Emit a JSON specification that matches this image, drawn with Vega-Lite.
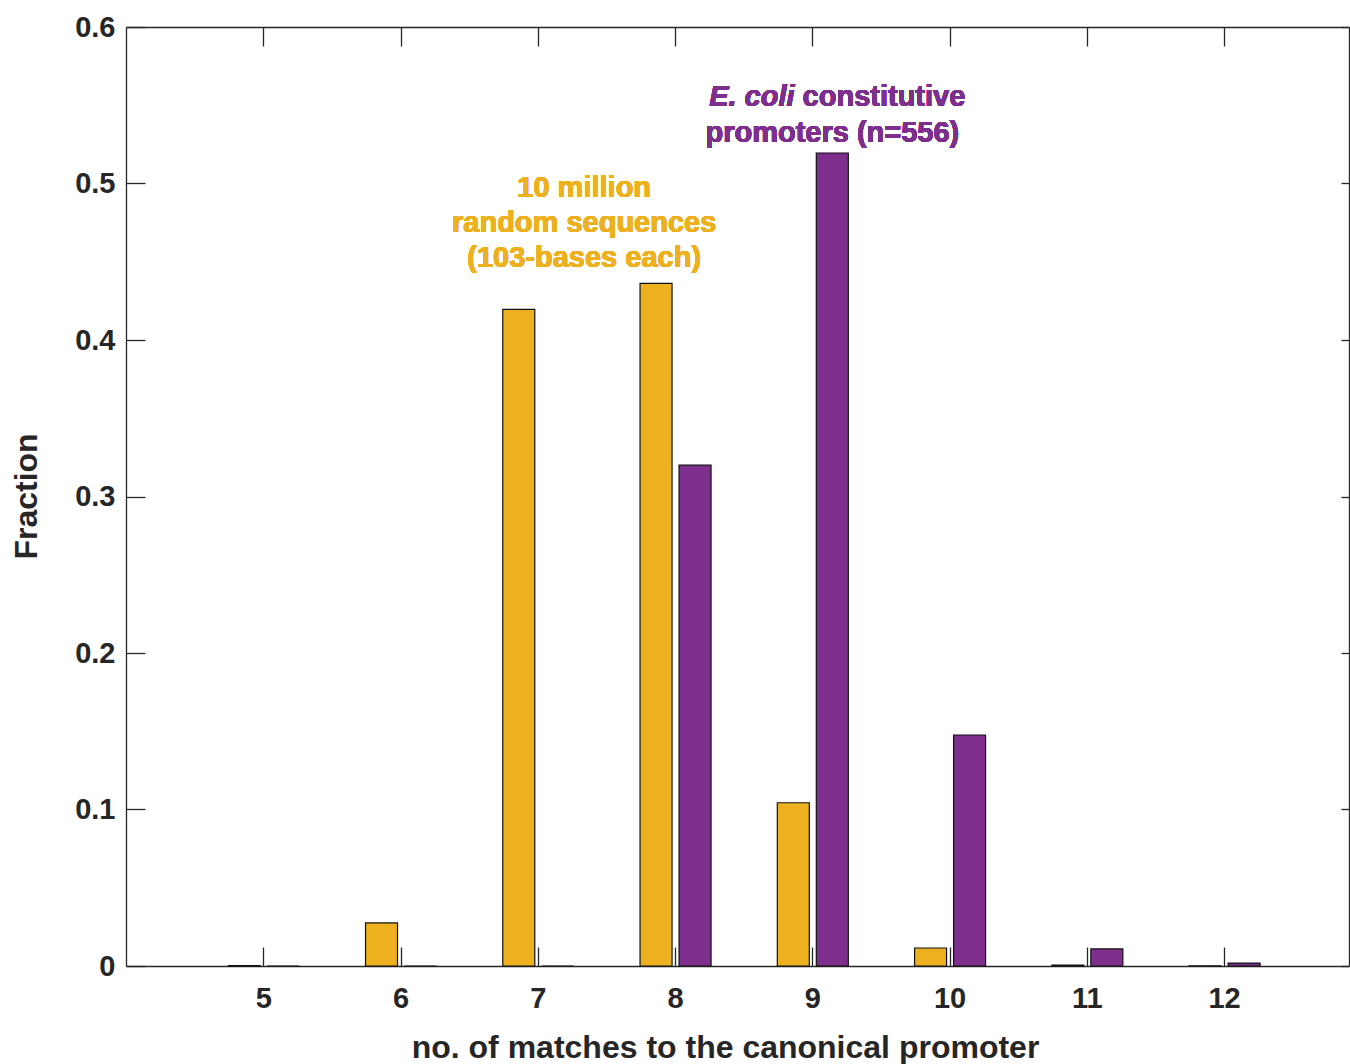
{
  "$schema": "https://vega.github.io/schema/vega-lite/v6.json",
  "width": 1223,
  "height": 939,
  "autosize": "none",
  "padding": {"left": 126, "top": 27, "right": 1, "bottom": 98},
  "background": "white",
  "config": {
    "view": {"stroke": null},
    "font": "Liberation Sans",
    "axis": {
      "grid": false,
      "domainColor": "#262626",
      "domainWidth": 1.3,
      "tickColor": "#262626",
      "tickWidth": 1.3,
      "labelFont": "Liberation Sans",
      "labelFontWeight": "bold",
      "labelFontSize": 29,
      "labelColor": "#262626",
      "titleFont": "Liberation Sans",
      "titleFontWeight": "bold",
      "titleColor": "#262626"
    }
  },
  "data": {
    "values": [
      {"matches": 5, "group": "random", "fraction": 0.0003},
      {"matches": 6, "group": "random", "fraction": 0.0275},
      {"matches": 7, "group": "random", "fraction": 0.4196},
      {"matches": 8, "group": "random", "fraction": 0.4362},
      {"matches": 9, "group": "random", "fraction": 0.1043},
      {"matches": 10, "group": "random", "fraction": 0.0115},
      {"matches": 11, "group": "random", "fraction": 0.0006},
      {"matches": 12, "group": "random", "fraction": 0.00003},
      {"matches": 5, "group": "ecoli", "fraction": 0},
      {"matches": 6, "group": "ecoli", "fraction": 0},
      {"matches": 7, "group": "ecoli", "fraction": 0},
      {"matches": 8, "group": "ecoli", "fraction": 0.320},
      {"matches": 9, "group": "ecoli", "fraction": 0.5195},
      {"matches": 10, "group": "ecoli", "fraction": 0.1476},
      {"matches": 11, "group": "ecoli", "fraction": 0.0109},
      {"matches": 12, "group": "ecoli", "fraction": 0.0019}
    ]
  },
  "layer": [
    {
      "transform": [{"filter": "datum.group == 'random'"}],
      "mark": {"type": "bar", "width": 32, "xOffset": -19, "color": "#EDB120", "stroke": "#111111", "strokeWidth": 1.2},
      "encoding": {
        "x": {
          "field": "matches", "type": "quantitative",
          "scale": {"domain": [4, 12.91], "nice": false, "zero": false, "padding": 0},
          "axis": {
            "orient": "bottom", "values": [5, 6, 7, 8, 9, 10, 11, 12], "format": "d",
            "tickSize": -19, "labelPadding": 37,
            "title": "no. of matches to the canonical promoter",
            "titleFontSize": 32, "titleX": 599, "titleY": 91,
            "titleAlign": "center", "titleBaseline": "alphabetic", "titleAnchor": "middle"
          }
        },
        "y": {
          "field": "fraction", "type": "quantitative",
          "scale": {"domain": [0, 0.6], "nice": false, "padding": 0},
          "axis": {
            "orient": "left", "values": [0, 0.1, 0.2, 0.3, 0.4, 0.5, 0.6], "format": "~g",
            "tickSize": -19, "labelPadding": 30,
            "title": "Fraction", "titleFontSize": 32, "titleAngle": -90,
            "titleX": -90, "titleY": 469, "titleAlign": "center", "titleBaseline": "alphabetic"
          }
        }
      }
    },
    {
      "transform": [{"filter": "datum.group == 'ecoli'"}],
      "mark": {"type": "bar", "width": 32, "xOffset": 20, "color": "#7E2F8E", "stroke": "#111111", "strokeWidth": 1.2},
      "encoding": {
        "x": {
          "field": "matches", "type": "quantitative",
          "axis": {"orient": "top", "values": [5, 6, 7, 8, 9, 10, 11, 12], "labels": false, "tickSize": -19, "title": null}
        },
        "y": {
          "field": "fraction", "type": "quantitative",
          "axis": {"orient": "right", "values": [0, 0.1, 0.2, 0.3, 0.4, 0.5, 0.6], "labels": false, "tickSize": -8, "title": null}
        }
      }
    },
    {
      "mark": {"type": "text", "text": ["10 million", "random sequences", "(103-bases each)"], "align": "center", "baseline": "alphabetic", "lineHeight": 35, "font": "Liberation Sans", "fontWeight": "bold", "fontSize": 29, "color": "#EDB120"},
      "encoding": {
        "x": {"datum": 7.338, "type": "quantitative", "axis": null},
        "y": {"datum": 0.4914, "type": "quantitative", "axis": null}
      }
    },
    {
      "mark": {"type": "text", "text": "E. coli", "align": "right", "baseline": "alphabetic", "dx": -4, "font": "Liberation Sans", "fontWeight": "bold", "fontStyle": "italic", "fontSize": 29, "color": "#7E2F8E"},
      "encoding": {
        "x": {"datum": 8.9, "type": "quantitative", "axis": null},
        "y": {"datum": 0.5495, "type": "quantitative", "axis": null}
      }
    },
    {
      "mark": {"type": "text", "text": "constitutive", "align": "left", "baseline": "alphabetic", "dx": 4, "font": "Liberation Sans", "fontWeight": "bold", "fontSize": 29, "color": "#7E2F8E"},
      "encoding": {
        "x": {"datum": 8.9, "type": "quantitative", "axis": null},
        "y": {"datum": 0.5495, "type": "quantitative", "axis": null}
      }
    },
    {
      "mark": {"type": "text", "text": "promoters (n=556)", "align": "center", "baseline": "alphabetic", "font": "Liberation Sans", "fontWeight": "bold", "fontSize": 29, "color": "#7E2F8E"},
      "encoding": {
        "x": {"datum": 9.146, "type": "quantitative", "axis": null},
        "y": {"datum": 0.5265, "type": "quantitative", "axis": null}
      }
    }
  ],
  "resolve": {"axis": {"x": "independent", "y": "independent"}}
}
